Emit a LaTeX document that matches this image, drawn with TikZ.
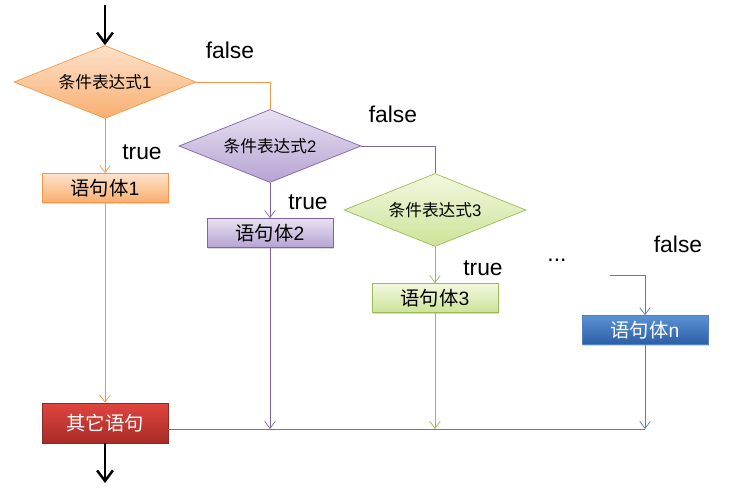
\documentclass[tikz,border=0pt]{standalone}
\usepackage{fontspec}
\setmainfont{Liberation Sans}
\newfontfamily\cjk{Noto Sans CJK SC}
\usetikzlibrary{shapes.geometric,arrows.meta,shadows}

\definecolor{orline}{HTML}{F79646}
\definecolor{ortop}{HTML}{FDE2CB}
\definecolor{orbot}{HTML}{F9AE70}
\definecolor{puline}{HTML}{8064A2}
\definecolor{putop}{HTML}{E8E1F1}
\definecolor{pubot}{HTML}{B6A3D3}
\definecolor{grline}{HTML}{9BBB59}
\definecolor{grtop}{HTML}{F2F8DF}
\definecolor{grbot}{HTML}{CDE398}
\definecolor{blline}{HTML}{4F81BD}
\definecolor{bltop}{HTML}{5B92D3}
\definecolor{blbot}{HTML}{2A5EA6}
\definecolor{rdline}{HTML}{8C2A24}
\definecolor{rdtop}{HTML}{E0453F}
\definecolor{rdbot}{HTML}{A82B28}

\tikzset{
 cond/.style={diamond,aspect=2.5,minimum width=3.64cm,minimum height=1.46cm,inner sep=0pt,
   draw=#1line,top color=#1top,bottom color=#1bot,font=\fontsize{9.5}{11}\selectfont},
 stmt/.style={rectangle,minimum width=2.52cm,minimum height=0.58cm,inner sep=0pt,
   draw=#1line,top color=#1top,bottom color=#1bot,font=\fontsize{11}{13}\selectfont,
   drop shadow={shadow xshift=0.6pt,shadow yshift=-0.8pt,fill=black!30}},
 lbl/.style={font=\fontsize{13}{15}\selectfont},
 arr/.style={-{Straight Barb[length=4pt,width=6pt]}},
 big/.style={-{Straight Barb[length=6pt,width=9pt,line width=1.4pt]},line width=1.6pt,black}
}

\begin{document}
\begin{tikzpicture}[x=0.02cm,y=-0.02cm]
 \useasboundingbox (0,0) rectangle (741,491);

 \node [cond=or] (C1) at (105,82) {{\cjk 条件表达式}1};
 \node [cond=pu] (C2) at (270,146) {{\cjk 条件表达式}2};
 \node [cond=gr] (C3) at (435,210) {{\cjk 条件表达式}3};

 \node [stmt=or] (S1) at (105,188) {{\cjk 语句体}1};
 \node [stmt=pu] (S2) at (270,233) {{\cjk 语句体}2};
 \node [stmt=gr] (S3) at (435,298) {{\cjk 语句体}3};
 \node [stmt=bl,text=white] (Sn) at (645,330) {{\cjk 语句体}n};
 \node [stmt=rd,text=white,minimum height=0.8cm] (E) at (105,423) {\cjk 其它语句};

 \node [lbl] (F1) at (230,50) {false};
 \node [lbl] (T1) at (142,152) {true};
 \node [lbl] (F2) at (393,114) {false};
 \node [lbl] (T2) at (308,202) {true};
 \node [lbl] (T3) at (483,268) {true};
 \node [lbl] (Fn) at (678,244) {false};
 \node [lbl] (dots) at (557,260) {...};

 \coordinate (In) at (105,5);
 \coordinate (Out) at (105,483);
 \coordinate (Gn) at (610,275);
 \coordinate (Mn) at (645,429);

 \draw[big] (In) -- (C1.north);
 \draw[big] (E.south) -- (Out);

 \draw[orline] (C1.east) -| (C2.north);
 \draw[orline,arr] (C1.south) -- (S1.north);
 \draw[orline,arr] (S1.south) -- (E.north);

 \draw[puline] (C2.east) -| (C3.north);
 \draw[puline,arr] (C2.south) -- (S2.north);
 \draw[puline,arr] (S2.south) -- (S2.south |- Mn);

 \draw[grline,arr] (C3.south) -- (S3.north);
 \draw[grline,arr] (S3.south) -- (S3.south |- Mn);

 \draw[blline,arr] (Gn) -| (Sn.north);
 \draw[blline,arr] (Sn.south) -- (Mn);
 \draw[blline] (E.east |- Mn) -- (Mn);

\end{tikzpicture}
\end{document}
